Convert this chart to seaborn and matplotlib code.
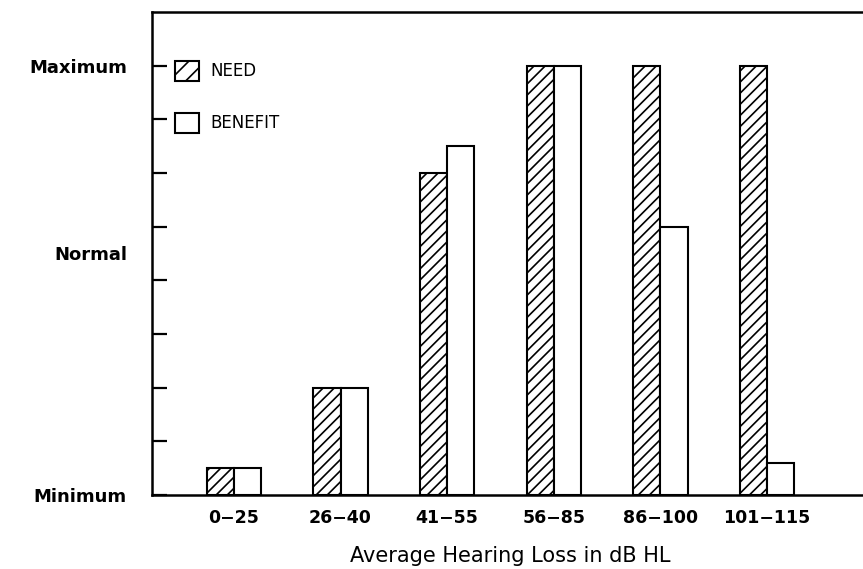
import matplotlib
matplotlib.use("Agg")
import matplotlib.pyplot as plt
from matplotlib.patches import Patch
import seaborn as sns
import pandas as pd

# hearing loss groups and the two series (0 = Minimum, 8 = Maximum)
groups = ['0\u221225', '26\u221240', '41\u221255', '56\u221285', '86\u2212100', '101\u2212115']
need = [0.5, 2.0, 6.0, 8.0, 8.0, 8.0]
benefit = [0.5, 2.0, 6.5, 8.0, 5.0, 0.6]
level_ticks = [0, 4.5, 8]
level_names = ['Minimum', 'Normal', 'Maximum']

df = pd.DataFrame({
    'group': groups * 2,
    'value': need + benefit,
    'series': ['NEED'] * len(groups) + ['BENEFIT'] * len(groups),
})

sns.set_style('white')
plt.rcParams['font.family'] = ['DejaVu Sans']
plt.rcParams['text.color'] = 'black'
plt.rcParams['xtick.color'] = 'black'
plt.rcParams['ytick.color'] = 'black'
plt.rcParams['axes.labelcolor'] = 'black'
plt.rcParams['hatch.linewidth'] = 1.2

fig = plt.figure(figsize=(8.63, 5.69), dpi=100)
ax = fig.add_axes([0.176, 0.13, 0.83, 0.849])

sns.barplot(data=df, x='group', y='value', hue='series', order=groups,
            hue_order=['NEED', 'BENEFIT'], palette=['white', 'white'],
            edgecolor='black', linewidth=1.5, width=0.51, gap=0,
            legend=False, ax=ax)

for bar in ax.containers[0]:
    bar.set_hatch('///')

ax.set_xlim(-0.77, 5.95)
ax.set_ylim(0, 9)

for side in ['top', 'left', 'bottom']:
    ax.spines[side].set_color('black')
    ax.spines[side].set_linewidth(1.8)
ax.spines['right'].set_visible(False)

# inward tick marks at every unit, text labels on minor ticks
ax.yaxis.remove_overlapping_locs = False
ax.set_yticks(range(0, 9))
ax.set_yticklabels([])
ax.tick_params(axis='y', which='major', direction='in', length=11, width=1.6, left=True)
ax.set_yticks(level_ticks, minor=True)
ax.set_yticklabels(level_names, minor=True, fontsize=13, fontweight='bold')
ax.tick_params(axis='y', which='minor', length=0, pad=18)

ax.tick_params(axis='x', length=0, pad=10, labelsize=12.5)
for lbl in ax.get_xticklabels():
    lbl.set_fontweight('bold')

ax.set_ylabel('')
ax.set_xlabel('Average Hearing Loss in dB HL', fontsize=15, labelpad=14)

handles = [Patch(facecolor='white', edgecolor='black', hatch='//', linewidth=1.5),
           Patch(facecolor='white', edgecolor='black', linewidth=1.5)]
ax.legend(handles, ['NEED', 'BENEFIT'], loc='upper left', bbox_to_anchor=(0.012, 0.93),
          frameon=False, fontsize=12, handlelength=1.4, handleheight=1.5,
          labelspacing=1.9, handletextpad=0.7)

fig.savefig('out.png', dpi=100)
